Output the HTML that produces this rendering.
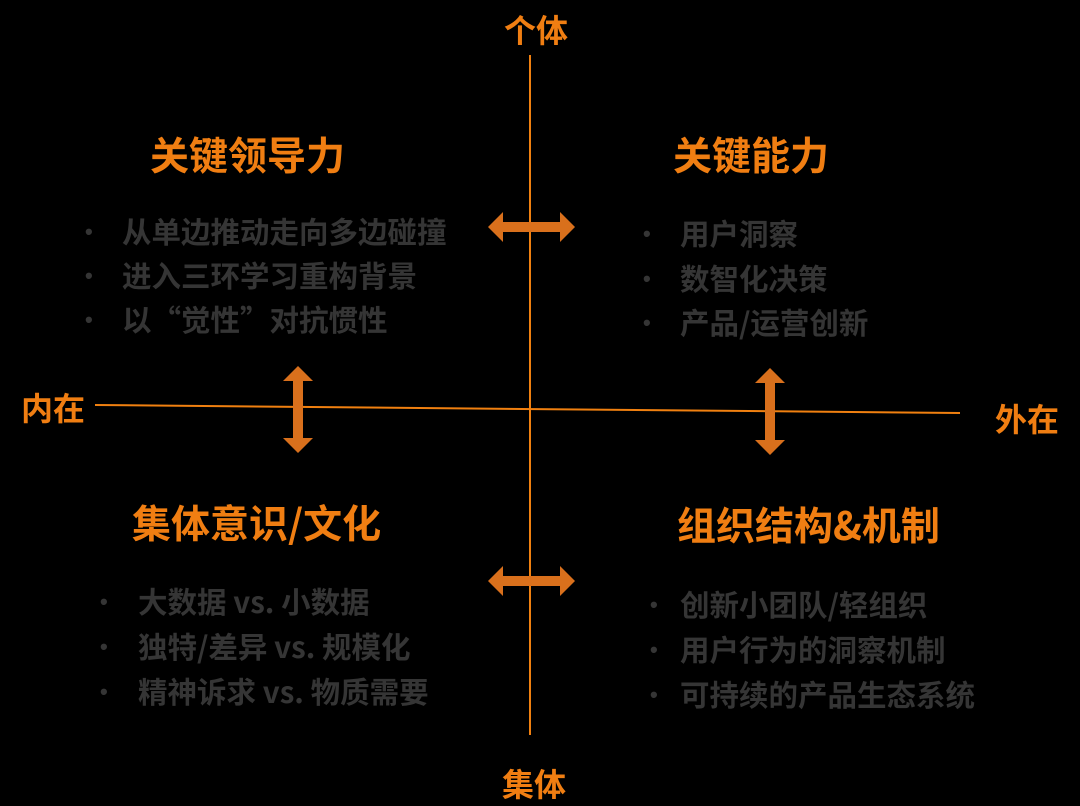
<!DOCTYPE html>
<html><head><meta charset="utf-8"><style>
body{margin:0;width:1080px;height:806px;background:#000;overflow:hidden;position:relative;font-family:"Noto Sans CJK SC","Liberation Sans",sans-serif;font-weight:bold}
.t{position:absolute;white-space:nowrap;line-height:1}
.o{color:#F07E12}
.h{font-size:39px;color:#F07E12}
.b{font-size:29.5px;color:#353535}
.d{font-size:22px;color:#353535;font-family:"Liberation Sans",sans-serif}
</style></head><body>
<svg width="1080" height="806" style="position:absolute;left:0;top:0">
<line x1="530" y1="55" x2="530" y2="735" stroke="#F08010" stroke-width="2"/>
<line x1="95" y1="405" x2="960" y2="413" stroke="#F08010" stroke-width="2"/>
<g fill="#D9701C">
<polygon points="488,227 503,212 503,222 560,222 560,212 575,227 560,242 560,232 503,232 503,242"/>
<polygon points="488,581 503,566 503,576 560,576 560,566 575,581 560,596 560,586 503,586 503,596"/>
<polygon points="298,366 313,381 303,381 303,438 313,438 298,453 283,438 293,438 293,381 283,381"/>
<polygon points="770,368 785,383 775,383 775,440 785,440 770,455 755,440 765,440 765,383 755,383"/>
</g>
</svg>
<div class="t o" style="left:504px;top:13px;font-size:32px">个体</div>
<div class="t o" style="left:502px;top:767px;font-size:32px">集体</div>
<div class="t o" style="left:21px;top:391px;font-size:32px">内在</div>
<div class="t o" style="left:995px;top:402px;font-size:32px">外在</div>
<div class="t h" style="left:150px;top:135px">关键领导力</div>
<div class="t h" style="left:673px;top:135px">关键能力</div>
<div class="t h" style="left:132px;top:503px">集体意识/文化</div>
<div class="t h" style="left:677px;top:505px">组织结构&amp;机制</div>

<div class="t d" style="left:85px;top:221px">•</div><div class="t b" style="left:122px;top:217px">从单边推动走向多边碰撞</div>
<div class="t d" style="left:85px;top:265px">•</div><div class="t b" style="left:122px;top:261px">进入三环学习重构背景</div>
<div class="t d" style="left:85px;top:309px">•</div><div class="t b" style="left:122px;top:305px">以“觉性”对抗惯性</div>

<div class="t d" style="left:643px;top:223px">•</div><div class="t b" style="left:680px;top:219px">用户洞察</div>
<div class="t d" style="left:643px;top:268px">•</div><div class="t b" style="left:680px;top:264px">数智化决策</div>
<div class="t d" style="left:643px;top:312px">•</div><div class="t b" style="left:680px;top:308px">产品/运营创新</div>

<div class="t d" style="left:100px;top:591px">•</div><div class="t b" style="left:138px;top:587px">大数据 vs. 小数据</div>
<div class="t d" style="left:100px;top:636px">•</div><div class="t b" style="left:138px;top:632px">独特/差异 vs. 规模化</div>
<div class="t d" style="left:100px;top:681px">•</div><div class="t b" style="left:138px;top:677px">精神诉求 vs. 物质需要</div>

<div class="t d" style="left:650px;top:594px">•</div><div class="t b" style="left:680px;top:590px">创新小团队/轻组织</div>
<div class="t d" style="left:650px;top:639px">•</div><div class="t b" style="left:680px;top:635px">用户行为的洞察机制</div>
<div class="t d" style="left:650px;top:684px">•</div><div class="t b" style="left:680px;top:680px">可持续的产品生态系统</div>
</body></html>
